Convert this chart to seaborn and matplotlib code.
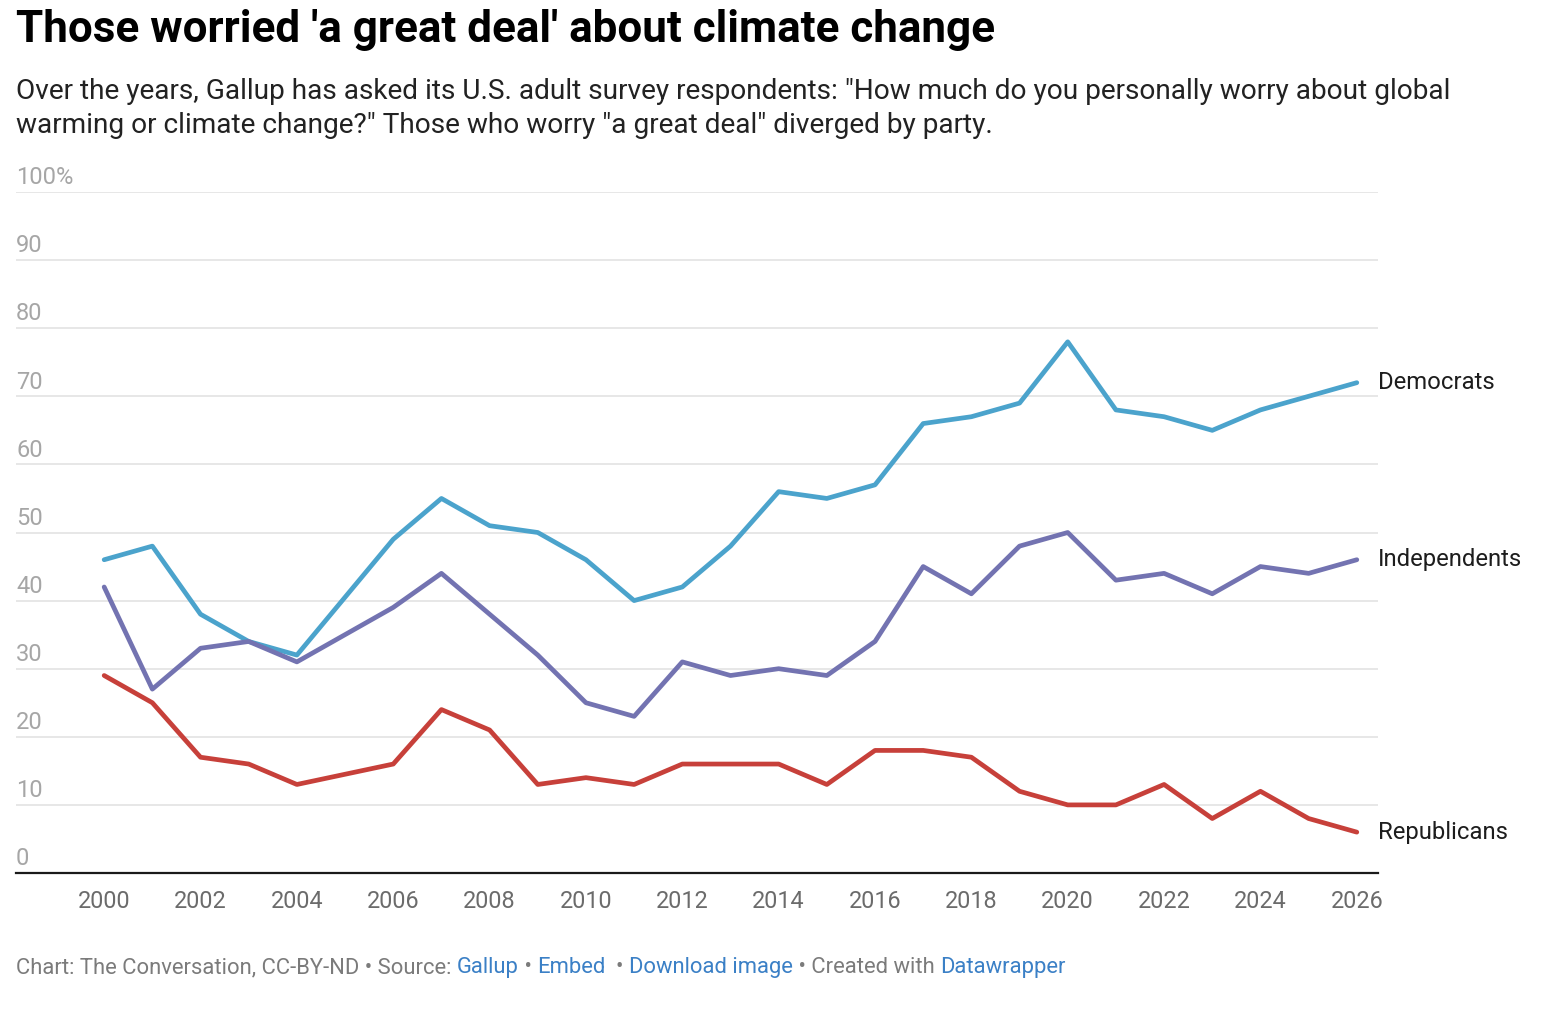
import matplotlib
matplotlib.use("Agg")
import matplotlib.pyplot as plt
import seaborn as sns
import pandas as pd

# Gallup: share worrying "a great deal" about climate change (2005 not surveyed)
years = [2000, 2001, 2002, 2003, 2004, 2006, 2007, 2008, 2009, 2010, 2011, 2012, 2013,
         2014, 2015, 2016, 2017, 2018, 2019, 2020, 2021, 2022, 2023, 2024, 2025, 2026]
democrats = [46, 48, 38, 34, 32, 49, 55, 51, 50, 46, 40, 42, 48,
             56, 55, 57, 66, 67, 69, 78, 68, 67, 65, 68, 70, 72]
independents = [42, 27, 33, 34, 31, 39, 44, 38, 32, 25, 23, 31, 29,
                30, 29, 34, 45, 41, 48, 50, 43, 44, 41, 45, 44, 46]
republicans = [29, 25, 17, 16, 13, 16, 24, 21, 13, 14, 13, 16, 16,
               16, 13, 18, 18, 17, 12, 10, 10, 13, 8, 12, 8, 6]

parties = ["Democrats", "Independents", "Republicans"]
colors = {"Democrats": "#4ba3cc", "Independents": "#7373b1", "Republicans": "#c7403a"}
y_ticks = [0, 10, 20, 30, 40, 50, 60, 70, 80, 90, 100]
y_labels = ["0", "10", "20", "30", "40", "50", "60", "70", "80", "90", "100%"]
x_ticks = list(range(2000, 2027, 2))

df = pd.DataFrame({
    "year": years * 3,
    "value": democrats + independents + republicans,
    "party": [p for p in parties for _ in years],
})

sns.set_style("white")
plt.rcParams["font.family"] = ["Roboto", "DejaVu Sans"]

fig = plt.figure(figsize=(15.6, 10.1), dpi=100)
ax = fig.add_axes([16 / 1560, 137 / 1010, 1362 / 1560, 681 / 1010])

sns.lineplot(data=df, x="year", y="value", hue="party", palette=colors,
             linewidth=3.4, ax=ax, legend=False, solid_capstyle="round")

ax.set_xlim(1998.17, 2026.44)
ax.set_ylim(0, 100)
ax.set_xlabel("")
ax.set_ylabel("")

# gridlines, labels sit above them on the left
for v, lab in zip(y_ticks, y_labels):
    if v > 0:
        ax.axhline(v, color="#e3e3e3", lw=1.2, zorder=0)
    ax.annotate(lab, (0, v), xycoords=("axes fraction", "data"), xytext=(0, 2),
                textcoords="offset points", ha="left", va="bottom",
                fontsize=17, color="#a6a6a6", annotation_clip=False)
ax.set_yticks([])

ax.set_xticks(x_ticks)
ax.set_xticklabels([str(x) for x in x_ticks], fontsize=16.8, color="#6b6b6b")
ax.tick_params(axis="x", length=0, pad=12)

for s in ["top", "right", "left"]:
    ax.spines[s].set_visible(False)
ax.spines["bottom"].set_color("#1a1a1a")
ax.spines["bottom"].set_linewidth(1.6)

# line end labels
ends = {"Democrats": democrats[-1], "Independents": independents[-1],
        "Republicans": republicans[-1]}
for p in parties:
    ax.annotate(p, (years[-1], ends[p]), xytext=(15, 0), textcoords="offset points",
                ha="left", va="center", fontsize=17.2, color="#1d1d1d",
                annotation_clip=False)

fig.text(16 / 1560, 1 - 42 / 1010, "Those worried 'a great deal' about climate change",
         fontsize=31.7, fontweight="bold", color="#000000", va="baseline")
fig.text(16 / 1560, 1 - 78 / 1010,
         "Over the years, Gallup has asked its U.S. adult survey respondents: \"How much do you personally worry about global\n"
         "warming or climate change?\" Those who worry \"a great deal\" diverged by party.",
         fontsize=20.2, color="#222222", va="top", linespacing=1.34)

# footer with mixed colours
gray, blue = "#7b7b7b", "#3b80c6"
pieces = [("Chart: The Conversation, CC-BY-ND • Source: ", gray), ("Gallup", blue),
          (" • ", gray), ("Embed", blue), ("  • ", gray), ("Download image", blue),
          (" • Created with ", gray), ("Datawrapper", blue)]
renderer = fig.canvas.get_renderer()
x = 16 / 1560
for txt, col in pieces:
    t = fig.text(x, 1 - 973 / 1010, txt, fontsize=15.8, color=col, va="baseline")
    bb = t.get_window_extent(renderer=renderer)
    x += bb.width / fig.bbox.width

fig.savefig("out.png", dpi=100, facecolor="white")
